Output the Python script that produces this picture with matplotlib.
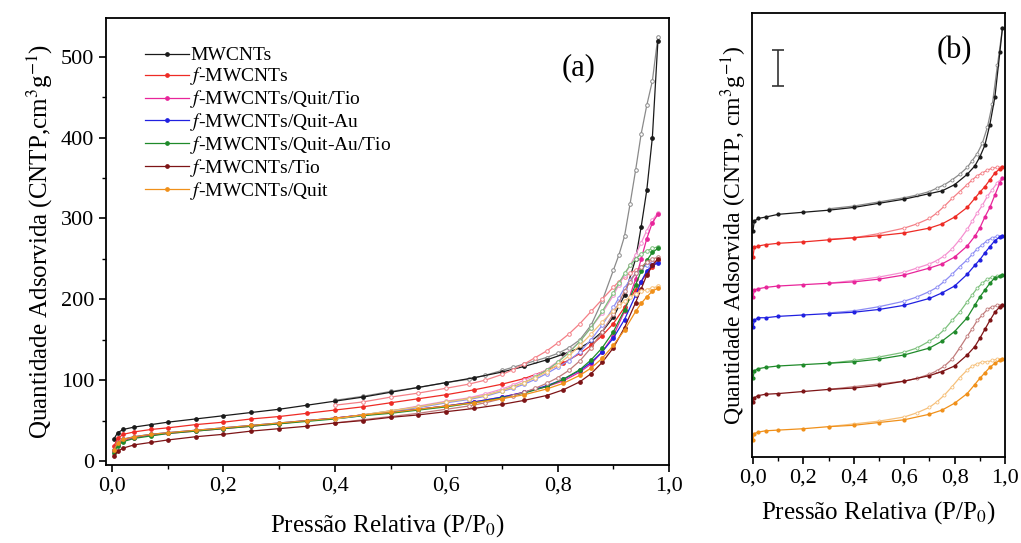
import matplotlib
matplotlib.use("Agg")
from matplotlib import pyplot as plt
from matplotlib.ticker import MultipleLocator, FuncFormatter

plt.rcParams['font.family'] = ['Liberation Serif', 'DejaVu Serif']
plt.rcParams['mathtext.fontset'] = 'stix'

# ---------------- panel (a) data: quantity adsorbed (cm3/g) ----------------
p_ads = [0.003, 0.01, 0.02, 0.04, 0.07, 0.1, 0.15, 0.2, 0.25, 0.3, 0.35, 0.4, 0.45, 0.5, 0.55,
         0.6, 0.65, 0.7, 0.74, 0.78, 0.81, 0.84, 0.86, 0.88, 0.9, 0.92, 0.94, 0.95, 0.96, 0.97, 0.98]
p_des = [0.98, 0.97, 0.96, 0.95, 0.94, 0.93, 0.92, 0.91, 0.9, 0.88, 0.86, 0.84, 0.82, 0.8, 0.78,
         0.76, 0.74, 0.72, 0.7, 0.67, 0.64, 0.6, 0.55, 0.5, 0.45, 0.4]

labels = ["MWCNTs", "$f$-MWCNTs", "$f$-MWCNTs/Quit/Tio", "$f$-MWCNTs/Quit-Au",
          "$f$-MWCNTs/Quit-Au/Tio", "$f$-MWCNTs/Tio", "$f$-MWCNTs/Quit"]
colors = ["#1a1a1a", "#ee2b25", "#e8259a", "#2020e0", "#1f8a2a", "#7d1416", "#f0901a"]
light = ["#8a8a8a", "#f47f86", "#f58fd0", "#8c8cf4", "#7cc07c", "#c07a7a", "#f6c07a"]

mwcnt_ads = [27, 35, 39, 42, 45, 48, 52, 56, 60, 64, 69, 74, 79, 85, 91, 97, 103, 110, 117, 125,
             132, 140, 148, 160, 178, 205, 250, 290, 335, 400, 520]
mwcnt_des = [525, 470, 440, 405, 360, 318, 278, 255, 236, 198, 168, 150, 140, 133, 128, 124, 120,
             116, 112, 106, 101, 97, 91, 86, 80, 75]
f_ads = [18, 28, 33, 36, 39, 41, 45, 48, 52, 55, 59, 63, 67, 72, 77, 82, 88, 95, 102, 112, 121,
         133, 143, 155, 170, 190, 212, 222, 232, 240, 247]
f_des = [248, 246, 244, 240, 236, 232, 228, 222, 215, 200, 185, 170, 157, 146, 136, 128, 120,
         113, 107, 100, 95, 90, 84, 79, 73, 69]
qt_ads = [12, 20, 25, 29, 32, 34, 37, 40, 43, 46, 50, 53, 57, 60, 64, 68, 73, 79, 85, 92, 99,
          110, 120, 135, 155, 185, 225, 250, 275, 295, 305]
qt_des = [307, 298, 285, 270, 255, 242, 230, 218, 205, 183, 165, 148, 135, 123, 113, 106, 100,
          94, 89, 83, 78, 74, 68, 62, 57, 53]
qau_ads = [14, 22, 27, 30, 33, 35, 38, 41, 44, 47, 50, 53, 57, 60, 64, 68, 73, 79, 85, 93, 101,
           112, 122, 135, 152, 175, 205, 222, 235, 242, 245]
qau_des = [246, 245, 242, 238, 232, 224, 214, 202, 190, 168, 150, 135, 124, 116, 108, 101, 95,
           90, 86, 80, 76, 72, 66, 61, 56, 52]
qaut_ads = [10, 19, 24, 28, 31, 34, 37, 40, 43, 46, 49, 52, 56, 59, 63, 67, 72, 78, 84, 92, 101,
            113, 125, 140, 160, 187, 218, 235, 248, 258, 263]
qaut_des = [265, 263, 260, 256, 250, 242, 232, 220, 208, 185, 165, 148, 134, 122, 112, 104, 97,
            92, 87, 81, 77, 73, 67, 62, 57, 52]
tio_ads = [6, 12, 16, 20, 23, 26, 30, 33, 37, 40, 43, 47, 50, 54, 57, 61, 65, 70, 75, 81, 88,
           98, 108, 122, 140, 165, 196, 213, 230, 242, 250]
tio_des = [252, 250, 246, 240, 232, 222, 210, 196, 182, 160, 140, 124, 112, 103, 96, 90, 85, 81,
           77, 72, 68, 64, 59, 55, 51, 47]
quit_ads = [14, 22, 27, 30, 33, 35, 38, 41, 44, 47, 50, 53, 57, 60, 64, 68, 72, 77, 82, 89, 96,
            106, 115, 127, 143, 162, 185, 195, 203, 210, 214]
quit_des = [216, 214, 212, 210, 207, 203, 198, 192, 186, 172, 157, 143, 130, 119, 110, 103, 97,
            91, 87, 81, 77, 73, 67, 62, 57, 52]

ads_a = [mwcnt_ads, f_ads, qt_ads, qau_ads, qaut_ads, tio_ads, quit_ads]
des_a = [mwcnt_des, f_des, qt_des, qau_des, qaut_des, tio_des, quit_des]

# ---------------- panel (b) data: stacked isotherms (arbitrary offset units) ----------------
pb_ads = [0.0, 0.005, 0.02, 0.05, 0.1, 0.2, 0.3, 0.4, 0.5, 0.6, 0.7, 0.75, 0.8, 0.85, 0.88, 0.9,
          0.92, 0.94, 0.96, 0.98, 0.99]
pb_des = [0.99, 0.97, 0.95, 0.93, 0.91, 0.89, 0.87, 0.85, 0.82, 0.79, 0.76, 0.73, 0.7, 0.65,
          0.6, 0.5, 0.4, 0.3]

b_mwcnt_ads = [328, 342, 346, 348, 352, 355, 358, 362, 368, 374, 382, 386, 395, 410, 422, 435,
               452, 482, 522, 588, 622]
b_mwcnt_des = [622, 568, 512, 478, 455, 440, 430, 420, 410, 402, 395, 390, 385, 380, 376, 370,
               364, 360]
b_f_ads = [290, 304, 306, 308, 310, 312, 315, 318, 321, 325, 332, 338, 348, 362, 375, 384, 392,
           402, 412, 418, 421]
b_f_des = [421, 420, 419, 416, 412, 408, 402, 395, 385, 375, 364, 354, 346, 338, 332, 324, 318,
           316]
b_qt_ads = [232, 242, 244, 246, 248, 250, 252, 254, 258, 264, 274, 280, 290, 306, 320, 332, 348,
            362, 380, 398, 405]
b_qt_des = [405, 398, 388, 378, 365, 354, 342, 330, 315, 302, 292, 285, 280, 274, 268, 261, 256,
            252]
b_qau_ads = [188, 198, 202, 202, 204, 206, 208, 210, 214, 220, 230, 238, 248, 265, 278, 286, 296,
             305, 314, 319, 321]
b_qau_des = [321, 320, 318, 314, 308, 302, 294, 286, 276, 265, 255, 246, 240, 232, 226, 218, 212,
             209]
b_qaut_ads = [114, 125, 128, 130, 132, 134, 136, 138, 142, 148, 158, 168, 182, 202, 220, 232,
              242, 252, 260, 262, 264]
b_qaut_des = [264, 262, 261, 258, 252, 245, 235, 225, 210, 198, 185, 175, 168, 158, 152, 145,
              140, 136]
b_tio_ads = [80, 86, 89, 91, 92, 95, 98, 100, 104, 110, 118, 124, 132, 148, 160, 172, 185, 198,
             210, 218, 221]
b_tio_des = [221, 220, 218, 214, 206, 198, 186, 175, 158, 142, 132, 125, 120, 114, 110, 106, 102,
             98]
b_quit_ads = [25, 34, 36, 38, 39, 41, 44, 46, 50, 54, 62, 68, 78, 92, 105, 114, 122, 130, 136,
              140, 142]
b_quit_des = [142, 142, 140, 138, 138, 135, 132, 126, 115, 102, 90, 80, 72, 64, 58, 52, 48, 44]

ads_b = [b_mwcnt_ads, b_f_ads, b_qt_ads, b_qau_ads, b_qaut_ads, b_tio_ads, b_quit_ads]
des_b = [b_mwcnt_des, b_f_des, b_qt_des, b_qau_des, b_qaut_des, b_tio_des, b_quit_des]

comma = FuncFormatter(lambda v, pos: f"{v:.1f}".replace(".", ","))

fig = plt.figure(figsize=(10.21, 5.43), dpi=100)
ax = fig.add_axes([0.1038, 0.1436, 0.5515, 0.8233])
bx = fig.add_axes([0.7365, 0.1584, 0.2478, 0.8176])

# panel (a)
for i in range(len(labels)):
    ax.plot(p_des, des_a[i], '-o', color=light[i], lw=0.9, ms=2.6, mfc='white', mew=0.7)
    ax.plot(p_ads, ads_a[i], '-o', color=colors[i], lw=0.9, ms=2.4, label=labels[i])

ax.set_xlim(-0.011, 1.0)
ax.set_ylim(-5, 548)
ax.xaxis.set_major_locator(MultipleLocator(0.2))
ax.xaxis.set_minor_locator(MultipleLocator(0.1))
ax.yaxis.set_major_locator(MultipleLocator(100))
ax.yaxis.set_minor_locator(MultipleLocator(50))
ax.xaxis.set_major_formatter(comma)
ax.tick_params(which='major', direction='out', length=5, width=1.2, labelsize=16)
ax.tick_params(which='minor', direction='out', length=3, width=1.0)
for s in ax.spines.values():
    s.set_linewidth(1.3)
ax.set_xlabel("Pressão Relativa (P/P$_0$)", fontsize=18, labelpad=12)
ax.set_ylabel("Quantidade Adsorvida (CNTP,cm$^3$g$^{-1}$)", fontsize=18, labelpad=4)
ax.text(0.837, 486, "(a)", fontsize=22, ha='center', va='center')
ax.legend(loc='upper left', bbox_to_anchor=(0.055, 0.953), frameon=False, fontsize=14,
          handlelength=2.3, handletextpad=0.05, labelspacing=0.05, borderaxespad=0)

# panel (b)
for i in range(len(labels)):
    bx.plot(pb_des, des_b[i], '-o', color=light[i], lw=0.9, ms=2.2, mfc='white', mew=0.6)
    bx.plot(pb_ads, ads_b[i], '-o', color=colors[i], lw=0.9, ms=2.0)

bx.errorbar([0.098], [564], yerr=[26], color='#333333', capsize=4, lw=1.2, capthick=1.2)
bx.text(0.80, 590, "(b)", fontsize=22, ha='center', va='center')
bx.set_xlim(-0.004, 1.0)
bx.set_ylim(0, 644)
bx.xaxis.set_major_locator(MultipleLocator(0.2))
bx.xaxis.set_minor_locator(MultipleLocator(0.1))
bx.xaxis.set_major_formatter(comma)
bx.set_yticks([])
bx.tick_params(which='major', direction='out', length=5, width=1.2, labelsize=16)
bx.tick_params(which='minor', direction='out', length=3, width=1.0)
for s in bx.spines.values():
    s.set_linewidth(1.3)
bx.set_xlabel("Pressão Relativa (P/P$_0$)", fontsize=18, labelpad=8)
bx.set_ylabel("Quantidade Adsorvida (CNTP, cm$^3$g$^{-1}$)", fontsize=17, labelpad=2)

fig.savefig("out.png", dpi=100)
